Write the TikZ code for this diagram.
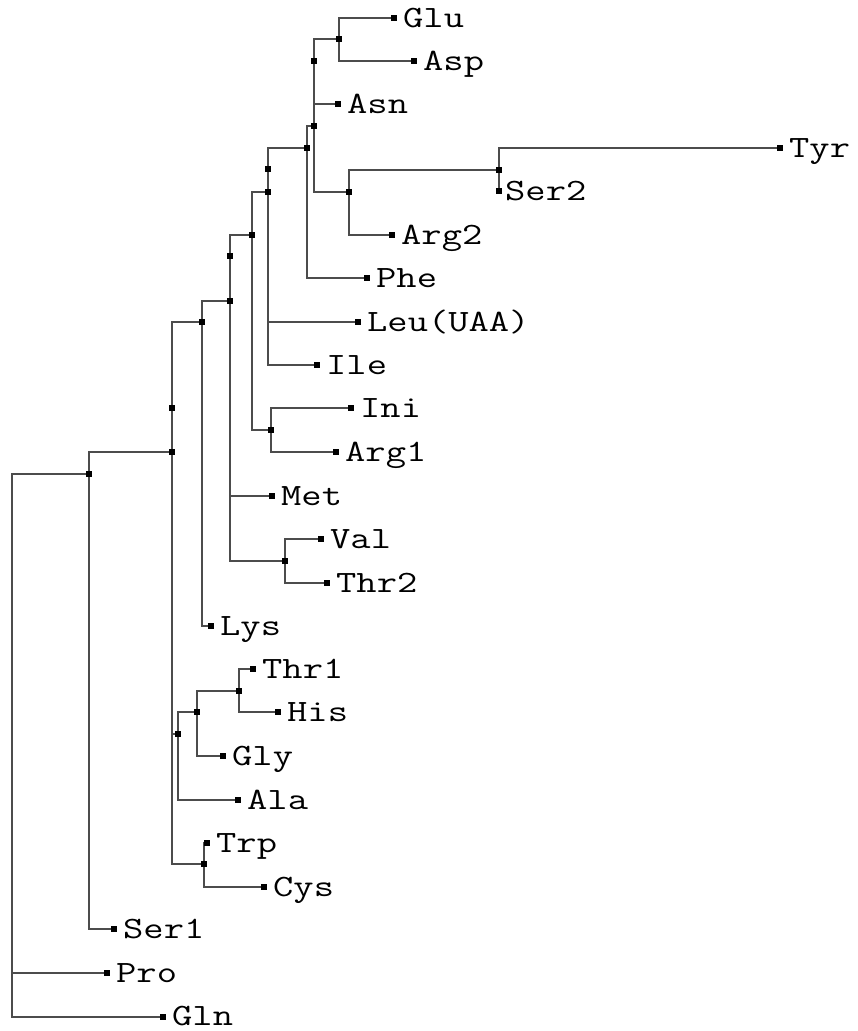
\documentclass[tikz,border=0pt]{standalone}
\usepackage{fontspec}
\newfontfamily\monofnt{Latin Modern Mono}[FakeStretch=1.27]
\pgfdeclarelayer{bg}
\pgfsetlayers{bg,main}
\begin{document}
\begin{tikzpicture}[x=1pt,y=-1pt,
  branch/.style={draw=black!70, line width=2pt},
  dot/.style={rectangle, fill=black, minimum size=5.5pt, inner sep=0pt, outer sep=0pt},
  lbl/.style={anchor=base west, inner sep=0pt, font=\monofnt\fontsize{31}{31}\selectfont, xshift=9pt, yshift=-9.5pt}]
\useasboundingbox (0,0) rectangle (857,1031);
% root
\coordinate (root) at (12,474);
% internal nodes
\node[dot] (n1) at (89,474) {};
\node[dot] (n2) at (172,452) {};
\node[dot] (x2) at (172,408) {};
\node[dot] (n3) at (202,322) {};
\node[dot] (n4) at (230,301) {};
\node[dot] (x4) at (230,256) {};
\node[dot] (n5) at (252,235) {};
\node[dot] (n6) at (268,192) {};
\node[dot] (x6) at (268,169) {};
\node[dot] (n7) at (307,148) {};
\node[dot] (n8) at (314,126) {};
\node[dot] (x8) at (314,61) {};
\node[dot] (n9) at (339,39) {};
\node[dot] (n10) at (349,192) {};
\node[dot] (n11) at (499,170) {};
\node[dot] (n14) at (271,430) {};
\node[dot] (n15) at (285,561) {};
\node[dot] (n20) at (178,734) {};
\node[dot] (n21) at (197,712) {};
\node[dot] (n22) at (239,691) {};
\node[dot] (n24) at (204,864) {};
% leaves
\node[dot] (Glu) at (394,18) {};
\node[dot] (Asp) at (414,61) {};
\node[dot] (Asn) at (338,104) {};
\node[dot] (Tyr) at (780,148) {};
\node[dot] (Ser2) at (499,191) {};
\node[dot] (Arg2) at (392,235) {};
\node[dot] (Phe) at (367,278) {};
\node[dot] (Leu) at (358,322) {};
\node[dot] (Ile) at (317,365) {};
\node[dot] (Ini) at (351,408) {};
\node[dot] (Arg1) at (336,452) {};
\node[dot] (Met) at (272,496) {};
\node[dot] (Val) at (321,539) {};
\node[dot] (Thr2) at (327,583) {};
\node[dot] (Lys) at (211,626) {};
\node[dot] (Thr1) at (253,669) {};
\node[dot] (His) at (278,712) {};
\node[dot] (Gly) at (223,756) {};
\node[dot] (Ala) at (238,800) {};
\node[dot] (Trp) at (207,843) {};
\node[dot] (Cys) at (264,887) {};
\node[dot] (Ser1) at (114,929) {};
\node[dot] (Pro) at (107,973) {};
\node[dot] (Gln) at (163,1017) {};
% labels
\node[lbl] (tGlu) at (Glu) {Glu};
\node[lbl] (tAsp) at (Asp) {Asp};
\node[lbl] (tAsn) at (Asn) {Asn};
\node[lbl] (tTyr) at (Tyr) {Tyr};
\node[lbl, xshift=-3pt] (tSer2) at (Ser2) {Ser2};
\node[lbl] (tArg2) at (Arg2) {Arg2};
\node[lbl] (tPhe) at (Phe) {Phe};
\node[lbl] (tLeu) at (Leu) {Leu(UAA)};
\node[lbl] (tIle) at (Ile) {Ile};
\node[lbl] (tIni) at (Ini) {Ini};
\node[lbl] (tArg1) at (Arg1) {Arg1};
\node[lbl] (tMet) at (Met) {Met};
\node[lbl] (tVal) at (Val) {Val};
\node[lbl] (tThr2) at (Thr2) {Thr2};
\node[lbl] (tLys) at (Lys) {Lys};
\node[lbl] (tThr1) at (Thr1) {Thr1};
\node[lbl] (tHis) at (His) {His};
\node[lbl] (tGly) at (Gly) {Gly};
\node[lbl] (tAla) at (Ala) {Ala};
\node[lbl] (tTrp) at (Trp) {Trp};
\node[lbl] (tCys) at (Cys) {Cys};
\node[lbl] (tSer1) at (Ser1) {Ser1};
\node[lbl] (tPro) at (Pro) {Pro};
\node[lbl, yshift=1pt] (tGln) at (Gln) {Gln};
% branches
\begin{pgfonlayer}{bg}
\fill[white] (0,0) rectangle (857,1031);
\draw[branch] (n1.center) -- (root) |- (Gln.center);
\draw[branch] (root) |- (Pro.center);
\draw[branch] (n1.center) |- (n2.center);
\draw[branch] (n1.center) |- (Ser1.center);
\draw[branch] (n2.center) |- (n3.center);
\draw[branch] (n2.center) |- (n20.center);
\draw[branch] (n2.center) |- (n24.center);
\draw[branch] (n3.center) |- (n4.center);
\draw[branch] (n3.center) |- (Lys.center);
\draw[branch] (n4.center) |- (n5.center);
\draw[branch] (n4.center) |- (Met.center);
\draw[branch] (n4.center) |- (n15.center);
\draw[branch] (n5.center) |- (n6.center);
\draw[branch] (n5.center) |- (n14.center);
\draw[branch] (n6.center) |- (n7.center);
\draw[branch] (n6.center) |- (Leu.center);
\draw[branch] (n6.center) |- (Ile.center);
\draw[branch] (n7.center) |- (n8.center);
\draw[branch] (n7.center) |- (Phe.center);
\draw[branch] (n8.center) |- (n9.center);
\draw[branch] (n8.center) |- (Asn.center);
\draw[branch] (n8.center) |- (n10.center);
\draw[branch] (n9.center) |- (Glu.center);
\draw[branch] (n9.center) |- (Asp.center);
\draw[branch] (n10.center) |- (n11.center);
\draw[branch] (n10.center) |- (Arg2.center);
\draw[branch] (n11.center) |- (Tyr.center);
\draw[branch] (n11.center) |- (Ser2.center);
\draw[branch] (n14.center) |- (Ini.center);
\draw[branch] (n14.center) |- (Arg1.center);
\draw[branch] (n15.center) |- (Val.center);
\draw[branch] (n15.center) |- (Thr2.center);
\draw[branch] (n20.center) |- (n21.center);
\draw[branch] (n20.center) |- (Ala.center);
\draw[branch] (n21.center) |- (n22.center);
\draw[branch] (n21.center) |- (Gly.center);
\draw[branch] (n22.center) |- (Thr1.center);
\draw[branch] (n22.center) |- (His.center);
\draw[branch] (n24.center) |- (Trp.center);
\draw[branch] (n24.center) |- (Cys.center);
\end{pgfonlayer}
\end{tikzpicture}
\end{document}
